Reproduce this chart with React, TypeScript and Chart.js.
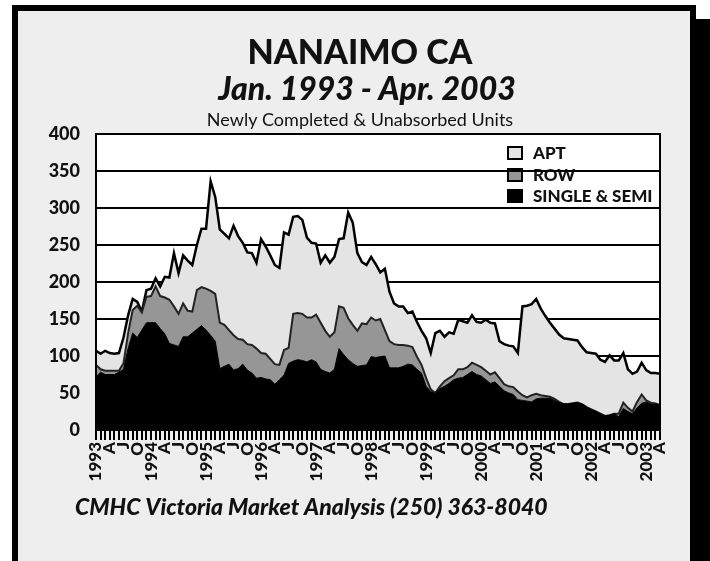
import React, { useEffect, useRef } from 'react';
import { Chart, registerables } from 'chart.js';

Chart.register(...registerables);

// Quarterly tick labels, Jan 1993 .. Apr 2003 (one every 3 months)
const quarterLabels = [
  '1993', 'A', 'J', 'O', '1994', 'A', 'J', 'O', '1995', 'A', 'J', 'O',
  '1996', 'A', 'J', 'O', '1997', 'A', 'J', 'O', '1998', 'A', 'J', 'O',
  '1999', 'A', 'J', 'O', '2000', 'A', 'J', 'O', '2001', 'A', 'J', 'O',
  '2002', 'A', 'J', 'O', '2003', 'A',
];

const startYear = 1993;
const monthCount = 124;

const singleSemi = [
  72, 78, 75, 75, 75, 78, 82, 110, 131, 125, 135, 145,
  145, 145, 137, 130, 117, 115, 113, 126, 126, 131, 136, 141,
  135, 128, 120, 83, 86, 89, 81, 83, 89, 81, 77, 70,
  71, 69, 68, 62, 68, 74, 90, 93, 95, 94, 92, 95,
  92, 82, 79, 77, 82, 110, 102, 95, 90, 86, 87, 88,
  99, 98, 99, 100, 84, 84, 84, 86, 89, 88, 82, 77,
  59, 52, 49, 56, 59, 63, 68, 70, 71, 75, 79, 75,
  73, 68, 63, 65, 59, 53, 50, 48, 41, 40, 39, 38,
  42, 43, 43, 43, 40, 37, 35, 35, 36, 37, 35, 31,
  28, 25, 22, 19, 20, 22, 18, 29, 25, 22, 30, 36,
  38, 35, 35, 34,
];

const rowUnits = [
  16, 4, 5, 5, 5, 2, 8, 21, 31, 43, 24, 35,
  36, 49, 44, 49, 59, 52, 44, 45, 35, 29, 53, 52,
  56, 60, 64, 62, 56, 46, 47, 40, 33, 35, 38, 40,
  33, 34, 28, 27, 20, 34, 21, 64, 63, 63, 60, 57,
  64, 63, 55, 49, 50, 57, 63, 56, 52, 48, 57, 55,
  53, 50, 51, 35, 36, 32, 31, 29, 25, 24, 17, 11,
  11, 3, 1, 3, 7, 7, 6, 12, 11, 10, 12, 13,
  12, 12, 12, 13, 11, 9, 9, 10, 11, 7, 5, 9,
  7, 4, 3, 2, 2, 1, 0, 0, 0, 0, 0, 0,
  0, 0, 0, 0, 0, 0, 4, 8, 5, 3, 8, 12,
  2, 2, 1, 0,
];

const aptUnits = [
  19, 21, 27, 24, 23, 24, 35, 24, 15, 5, 1, 9,
  10, 11, 13, 28, 30, 72, 55, 65, 68, 63, 61, 79,
  81, 148, 131, 126, 123, 124, 148, 139, 131, 124, 124, 116,
  154, 145, 140, 134, 131, 159, 153, 131, 131, 127, 108, 101,
  96, 81, 102, 100, 102, 91, 94, 143, 138, 105, 83, 80,
  82, 76, 63, 83, 67, 55, 52, 52, 44, 48, 47, 46,
  54, 49, 81, 75, 60, 62, 56, 67, 65, 60, 64, 58,
  60, 69, 70, 66, 50, 54, 55, 55, 52, 120, 124, 123,
  128, 117, 108, 100, 95, 91, 89, 88, 86, 84, 77, 74,
  76, 78, 73, 73, 81, 72, 72, 67, 52, 51, 41, 43,
  41, 40, 41, 42,
];

const yTicks = [0, 50, 100, 150, 200, 250, 300, 350, 400];

const seriesNames = ['SINGLE & SEMI', 'ROW', 'APT'];
const seriesColors = ['#000000', '#969696', '#e4e4e4'];

const titleText = 'NANAIMO CA';
const periodText = 'Jan. 1993 - Apr. 2003';
const subtitleText = 'Newly Completed & Unabsorbed Units';
const footerText = 'CMHC Victoria Market Analysis (250) 363-8040';

const FONT = 'Lato, "Open Sans", "DejaVu Sans", sans-serif';

const monthLabels: string[] = [];
for (let i = 0; i < monthCount; i++) {
  const y = startYear + Math.floor(i / 12);
  const m = (i % 12) + 1;
  monthLabels.push(`${y}-${m < 10 ? '0' + m : m}`);
}

const decorPlugin = {
  id: 'decor',
  beforeDraw(chart: any) {
    const { ctx, chartArea: ca, width, height } = chart;
    ctx.save();
    ctx.fillStyle = '#ffffff';
    ctx.fillRect(0, 0, width, height);
    // frame + shadow
    ctx.fillStyle = '#000000';
    ctx.fillRect(12, 5, 684, 6);
    ctx.fillRect(12, 5, 6, height - 5);
    ctx.fillRect(690, 5, 6, 14);
    ctx.fillRect(690, 19, width - 690, height - 19);
    ctx.fillStyle = '#eeeeee';
    ctx.fillRect(18, 11, 672, height - 11);
    // plot background
    ctx.fillStyle = '#ffffff';
    ctx.fillRect(ca.left, ca.top, ca.right - ca.left, ca.bottom - ca.top);

    // titles
    ctx.fillStyle = '#111111';
    ctx.textAlign = 'center';
    ctx.textBaseline = 'alphabetic';
    ctx.font = `900 34px ${FONT}`;
    ctx.fillText(titleText, 360, 64);
    ctx.font = `italic 900 32px ${FONT}`;
    ctx.fillText(periodText, 367, 100);
    ctx.font = `18px ${FONT}`;
    ctx.fillText(subtitleText, 360, 126);
    ctx.textAlign = 'left';
    ctx.font = `italic 900 23px ${FONT}`;
    ctx.fillText(footerText, 75, 515);

    // legend (top-right inside plot)
    const order = [2, 1, 0];
    const rowsY = [153, 175, 196];
    ctx.font = `900 17px ${FONT}`;
    ctx.textBaseline = 'middle';
    order.forEach((di, k) => {
      const cy = rowsY[k];
      ctx.fillStyle = seriesColors[di];
      ctx.fillRect(508, cy - 6, 14, 12);
      ctx.lineWidth = 2;
      ctx.strokeStyle = '#000000';
      ctx.strokeRect(508, cy - 6, 14, 12);
      ctx.fillStyle = '#111111';
      ctx.fillText(seriesNames[di], 533, cy + 1);
    });
    ctx.restore();
  },
  afterDatasetsDraw(chart: any) {
    const { ctx, chartArea: ca } = chart;
    ctx.save();
    ctx.lineWidth = 2;
    ctx.strokeStyle = '#000000';
    ctx.strokeRect(ca.left, ca.top, ca.right - ca.left, ca.bottom - ca.top);
    ctx.restore();
  },
};

export default function App() {
  const canvasRef = useRef<HTMLCanvasElement | null>(null);

  useEffect(() => {
    const canvas = canvasRef.current;
    if (!canvas) return;
    const chart = new Chart(canvas, {
      type: 'line',
      data: {
        labels: monthLabels,
        datasets: [
          {
            label: seriesNames[0],
            data: singleSemi,
            backgroundColor: seriesColors[0],
            borderColor: '#000000',
            borderWidth: 1,
            fill: 'origin',
            pointRadius: 0,
            tension: 0,
          },
          {
            label: seriesNames[1],
            data: rowUnits,
            backgroundColor: seriesColors[1],
            borderColor: '#222222',
            borderWidth: 2,
            fill: '-1',
            pointRadius: 0,
            tension: 0,
          },
          {
            label: seriesNames[2],
            data: aptUnits,
            backgroundColor: seriesColors[2],
            borderColor: '#000000',
            borderWidth: 2.5,
            fill: '-1',
            pointRadius: 0,
            tension: 0,
          },
        ],
      },
      options: {
        responsive: false,
        animation: false,
        devicePixelRatio: 1,
        layout: { padding: { left: 0, top: 134, right: 50, bottom: 0 } },
        plugins: {
          legend: { display: false },
          title: { display: false },
          tooltip: { enabled: false },
        },
        scales: {
          x: {
            type: 'category',
            offset: false,
            grid: {
              display: true,
              drawOnChartArea: false,
              drawTicks: true,
              tickLength: 10,
              color: '#000000',
              lineWidth: 2,
            },
            border: { display: true, color: '#000000', width: 2 },
            ticks: {
              autoSkip: false,
              minRotation: 90,
              maxRotation: 90,
              padding: 2,
              color: '#111111',
              font: { family: FONT, size: 17, weight: '900' },
              callback: (_v: any, index: number) =>
                index % 3 === 0 ? quarterLabels[index / 3] ?? '' : '',
            },
            afterFit: (scale: any) => {
              scale.height = 131;
            },
          },
          y: {
            stacked: true,
            min: yTicks[0],
            max: yTicks[yTicks.length - 1],
            grid: {
              display: true,
              drawTicks: false,
              color: '#000000',
              lineWidth: 2,
            },
            border: { display: true, color: '#000000', width: 2 },
            ticks: {
              stepSize: 50,
              padding: 16,
              color: '#111111',
              font: { family: FONT, size: 18, weight: '900' },
            },
            afterFit: (scale: any) => {
              scale.width = 96;
            },
          },
        },
      },
      plugins: [decorPlugin],
    });
    return () => chart.destroy();
  }, []);

  return (
    <div style={{ position: 'fixed', left: 0, top: 0, width: 710, height: 561 }}>
      <canvas ref={canvasRef} width={710} height={561} style={{ display: 'block' }} />
    </div>
  );
}
